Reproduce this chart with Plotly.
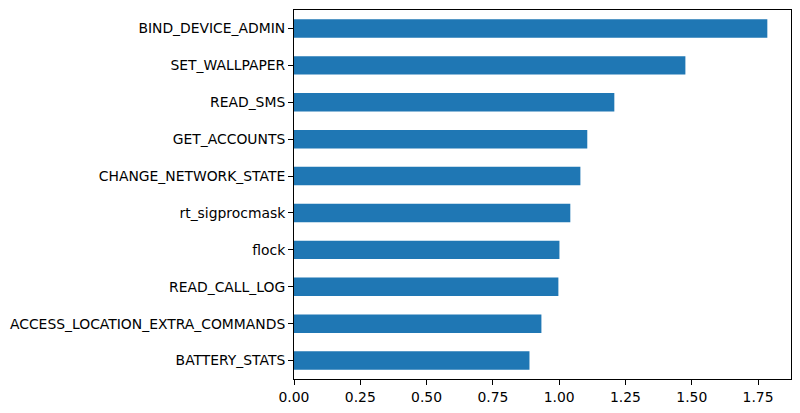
import plotly.graph_objects as go

categories = ["BATTERY_STATS", "ACCESS_LOCATION_EXTRA_COMMANDS", "READ_CALL_LOG", "flock",
              "rt_sigprocmask", "CHANGE_NETWORK_STATE", "GET_ACCOUNTS", "READ_SMS",
              "SET_WALLPAPER", "BIND_DEVICE_ADMIN"]
values = [0.888, 0.933, 0.997, 1.001, 1.042, 1.080, 1.106, 1.208, 1.476, 1.785]
tick_vals = [0.0, 0.25, 0.5, 0.75, 1.0, 1.25, 1.5, 1.75]
tick_text = ["0.00", "0.25", "0.50", "0.75", "1.00", "1.25", "1.50", "1.75"]

fig = go.Figure(go.Bar(
    x=values, y=list(range(len(categories))), orientation="h",
    width=0.5, marker=dict(color="#1f77b4", line=dict(width=0)),
))

fig.update_layout(
    width=800, height=413,
    margin=dict(l=294, r=9, t=10, b=34, autoexpand=False),
    plot_bgcolor="white", paper_bgcolor="white",
    font=dict(family="DejaVu Sans", size=13.9, color="black"),
    showlegend=False,
    xaxis=dict(range=[0, max(values) * 1.05], tickvals=tick_vals, ticktext=tick_text,
               showgrid=False, zeroline=False, showline=True, linecolor="black",
               linewidth=1, mirror=True, ticks="outside", ticklen=5, tickcolor="black"),
    yaxis=dict(range=[-0.5, len(categories) - 0.5], tickvals=list(range(len(categories))),
               ticktext=categories, showgrid=False, zeroline=False, showline=True,
               linecolor="black", linewidth=1, mirror=True, ticks="outside",
               ticklen=5, tickcolor="black"),
)

fig.write_html("out.html", config={"displayModeBar": False},
               post_script="document.body.style.margin='0';")
